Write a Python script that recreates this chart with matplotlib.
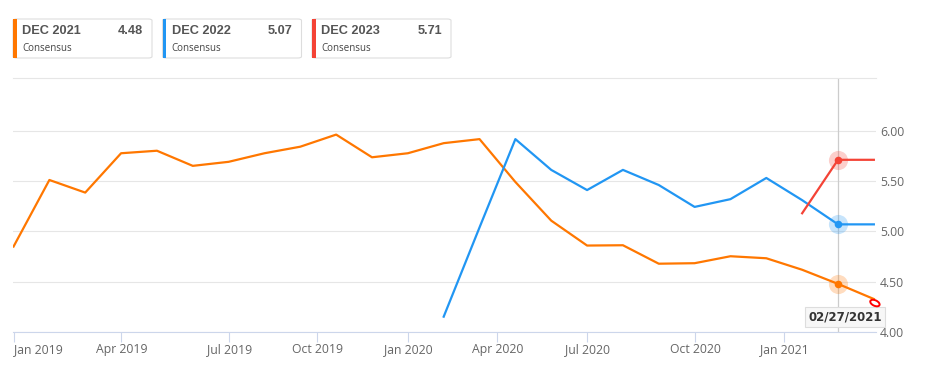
"""
Consensus estimates DEC 2021 / 2022 / 2023 - recreation of the line chart.
"""

import numpy as np
import matplotlib
matplotlib.use("Agg")
import matplotlib.pyplot as plt
from matplotlib.patches import FancyBboxPatch, Rectangle, Ellipse
from matplotlib.transforms import ScaledTranslation


W, H = 938, 367

# one point per estimate revision (ordinal axis, evenly spaced)
point_index = np.arange(25)
hover_idx = 23
hover_date = "02/27/2021"

dec2021 = [4.85, 5.51, 5.385, 5.775, 5.80, 5.65, 5.69, 5.775, 5.84, 5.96,
           5.735, 5.775, 5.875, 5.915, 5.49, 5.107, 4.86, 4.863, 4.68,
           4.685, 4.754, 4.734, 4.62, 4.48, 4.33]
dec2022 = [np.nan] * 12 + [4.155, 5.04, 5.915, 5.61, 5.41, 5.61, 5.46,
                           5.243, 5.32, 5.53, 5.31, 5.07, 5.07]
dec2023 = [np.nan] * 22 + [5.18, 5.71, 5.71]

series_names = ["DEC 2021", "DEC 2022", "DEC 2023"]
series_values = [dec2021, dec2022, dec2023]
series_colors = ["#ff7700", "#2196f3", "#f44336"]

# tick positions on the ordinal axis
tick_pos = [0.0, 3.01, 6.02, 8.47, 11.01, 13.5, 16.0, 19.02, 21.5]
tick_labels = ["Jan 2019", "Apr 2019", "Jul 2019", "Oct 2019", "Jan 2020",
               "Apr 2020", "Jul 2020", "Oct 2020", "Jan 2021"]
y_ticks = [4.0, 4.5, 5.0, 5.5, 6.0]


def fx(px):
    return px / W


def fy(py):
    return 1 - py / H


plt.rcParams["font.family"] = ["Open Sans", "DejaVu Sans"]

fig = plt.figure(figsize=(W / 100, H / 100), dpi=100)
ax = fig.add_axes([fx(13), fy(332.3), fx(876 - 13), (332.3 - 78.3) / H])

for vals, color in zip(series_values, series_colors):
    ax.plot(point_index, vals, color=color, lw=1.6, solid_joinstyle="round",
            zorder=3)
    v = vals[hover_idx]
    ax.scatter([hover_idx], [v], s=190, color=color, alpha=0.25, lw=0, zorder=4)
    ax.scatter([hover_idx], [v], s=30, color=color, lw=0, zorder=5)

# crosshair
ax.axvline(hover_idx, color="#cccccc", lw=0.9, zorder=2)

ax.set_xlim(-0.015, 24.06)
ax.set_ylim(4.0, 6.518)

ax.set_yticks(y_ticks)
ax.set_yticklabels([f"{v:.2f}" for v in y_ticks])
ax.yaxis.tick_right()
ax.tick_params(axis="y", length=0, pad=3, labelsize=8.8, labelcolor="#666666")
ax.grid(axis="y", color="#e6e6e6", lw=0.8, zorder=0)

ax.set_xticks(tick_pos)
ax.set_xticklabels(tick_labels)
ax.tick_params(axis="x", length=7, width=0.8, color="#ccd6eb", pad=0.5,
               labelsize=8.8, labelcolor="#666666")
ax.get_xticklabels()[0].set_ha("left")

for side in ["left", "right"]:
    ax.spines[side].set_visible(False)
ax.spines["top"].set_color("#e6e6e6")
ax.spines["top"].set_linewidth(0.8)
ax.spines["bottom"].set_color("#ccd6eb")
ax.spines["bottom"].set_linewidth(0.8)

# date label under crosshair
ax.annotate(hover_date, xy=(hover_idx + 0.2, 4.0), xytext=(0, 11),
            textcoords="offset points", ha="center", va="center",
            fontsize=8.5, fontweight="bold", color="#333333",
            family="DejaVu Sans", zorder=6,
            bbox=dict(boxstyle="square,pad=0.3", fc="#f7f7f7", ec="#dddddd",
                      lw=0.8))

# small red ring near the last point (sized in inches, placed in data)
ring_at = ScaledTranslation(point_index[-1] + 0.03, dec2021[-1] - 0.04,
                            ax.transData)
ax.add_patch(Ellipse((0, 0), 0.1, 0.055, angle=-25, fill=False, ec="#ff0000",
                     lw=1.4, zorder=7, clip_on=False,
                     transform=fig.dpi_scale_trans + ring_at))

# legend cards
for i, (name, vals, color) in enumerate(zip(series_names, series_values,
                                            series_colors)):
    left = 13 + i * 149.5
    fig.add_artist(FancyBboxPatch((fx(left), fy(58)), fx(139), 39 / H,
                                  boxstyle="round,pad=0,rounding_size=0.004",
                                  fc="white", ec="#dddddd", lw=0.8,
                                  transform=fig.transFigure))
    fig.add_artist(Rectangle((fx(left), fy(58)), fx(3.5), 39 / H,
                             fc=color, ec="none", transform=fig.transFigure))
    fig.text(fx(left + 9), fy(31.5), name, fontsize=9.2, fontweight="bold",
             color="#555555", va="center", ha="left",
             family=["Liberation Sans", "DejaVu Sans"])
    fig.text(fx(left + 130), fy(31.5), f"{vals[hover_idx]:.2f}", fontsize=9.2,
             fontweight="bold", color="#555555", va="center", ha="right",
             family=["Liberation Sans", "DejaVu Sans"])
    fig.text(fx(left + 9), fy(48.5), "Consensus", fontsize=7,
             color="#444444", va="center", ha="left")

fig.savefig("out.png", dpi=100)
